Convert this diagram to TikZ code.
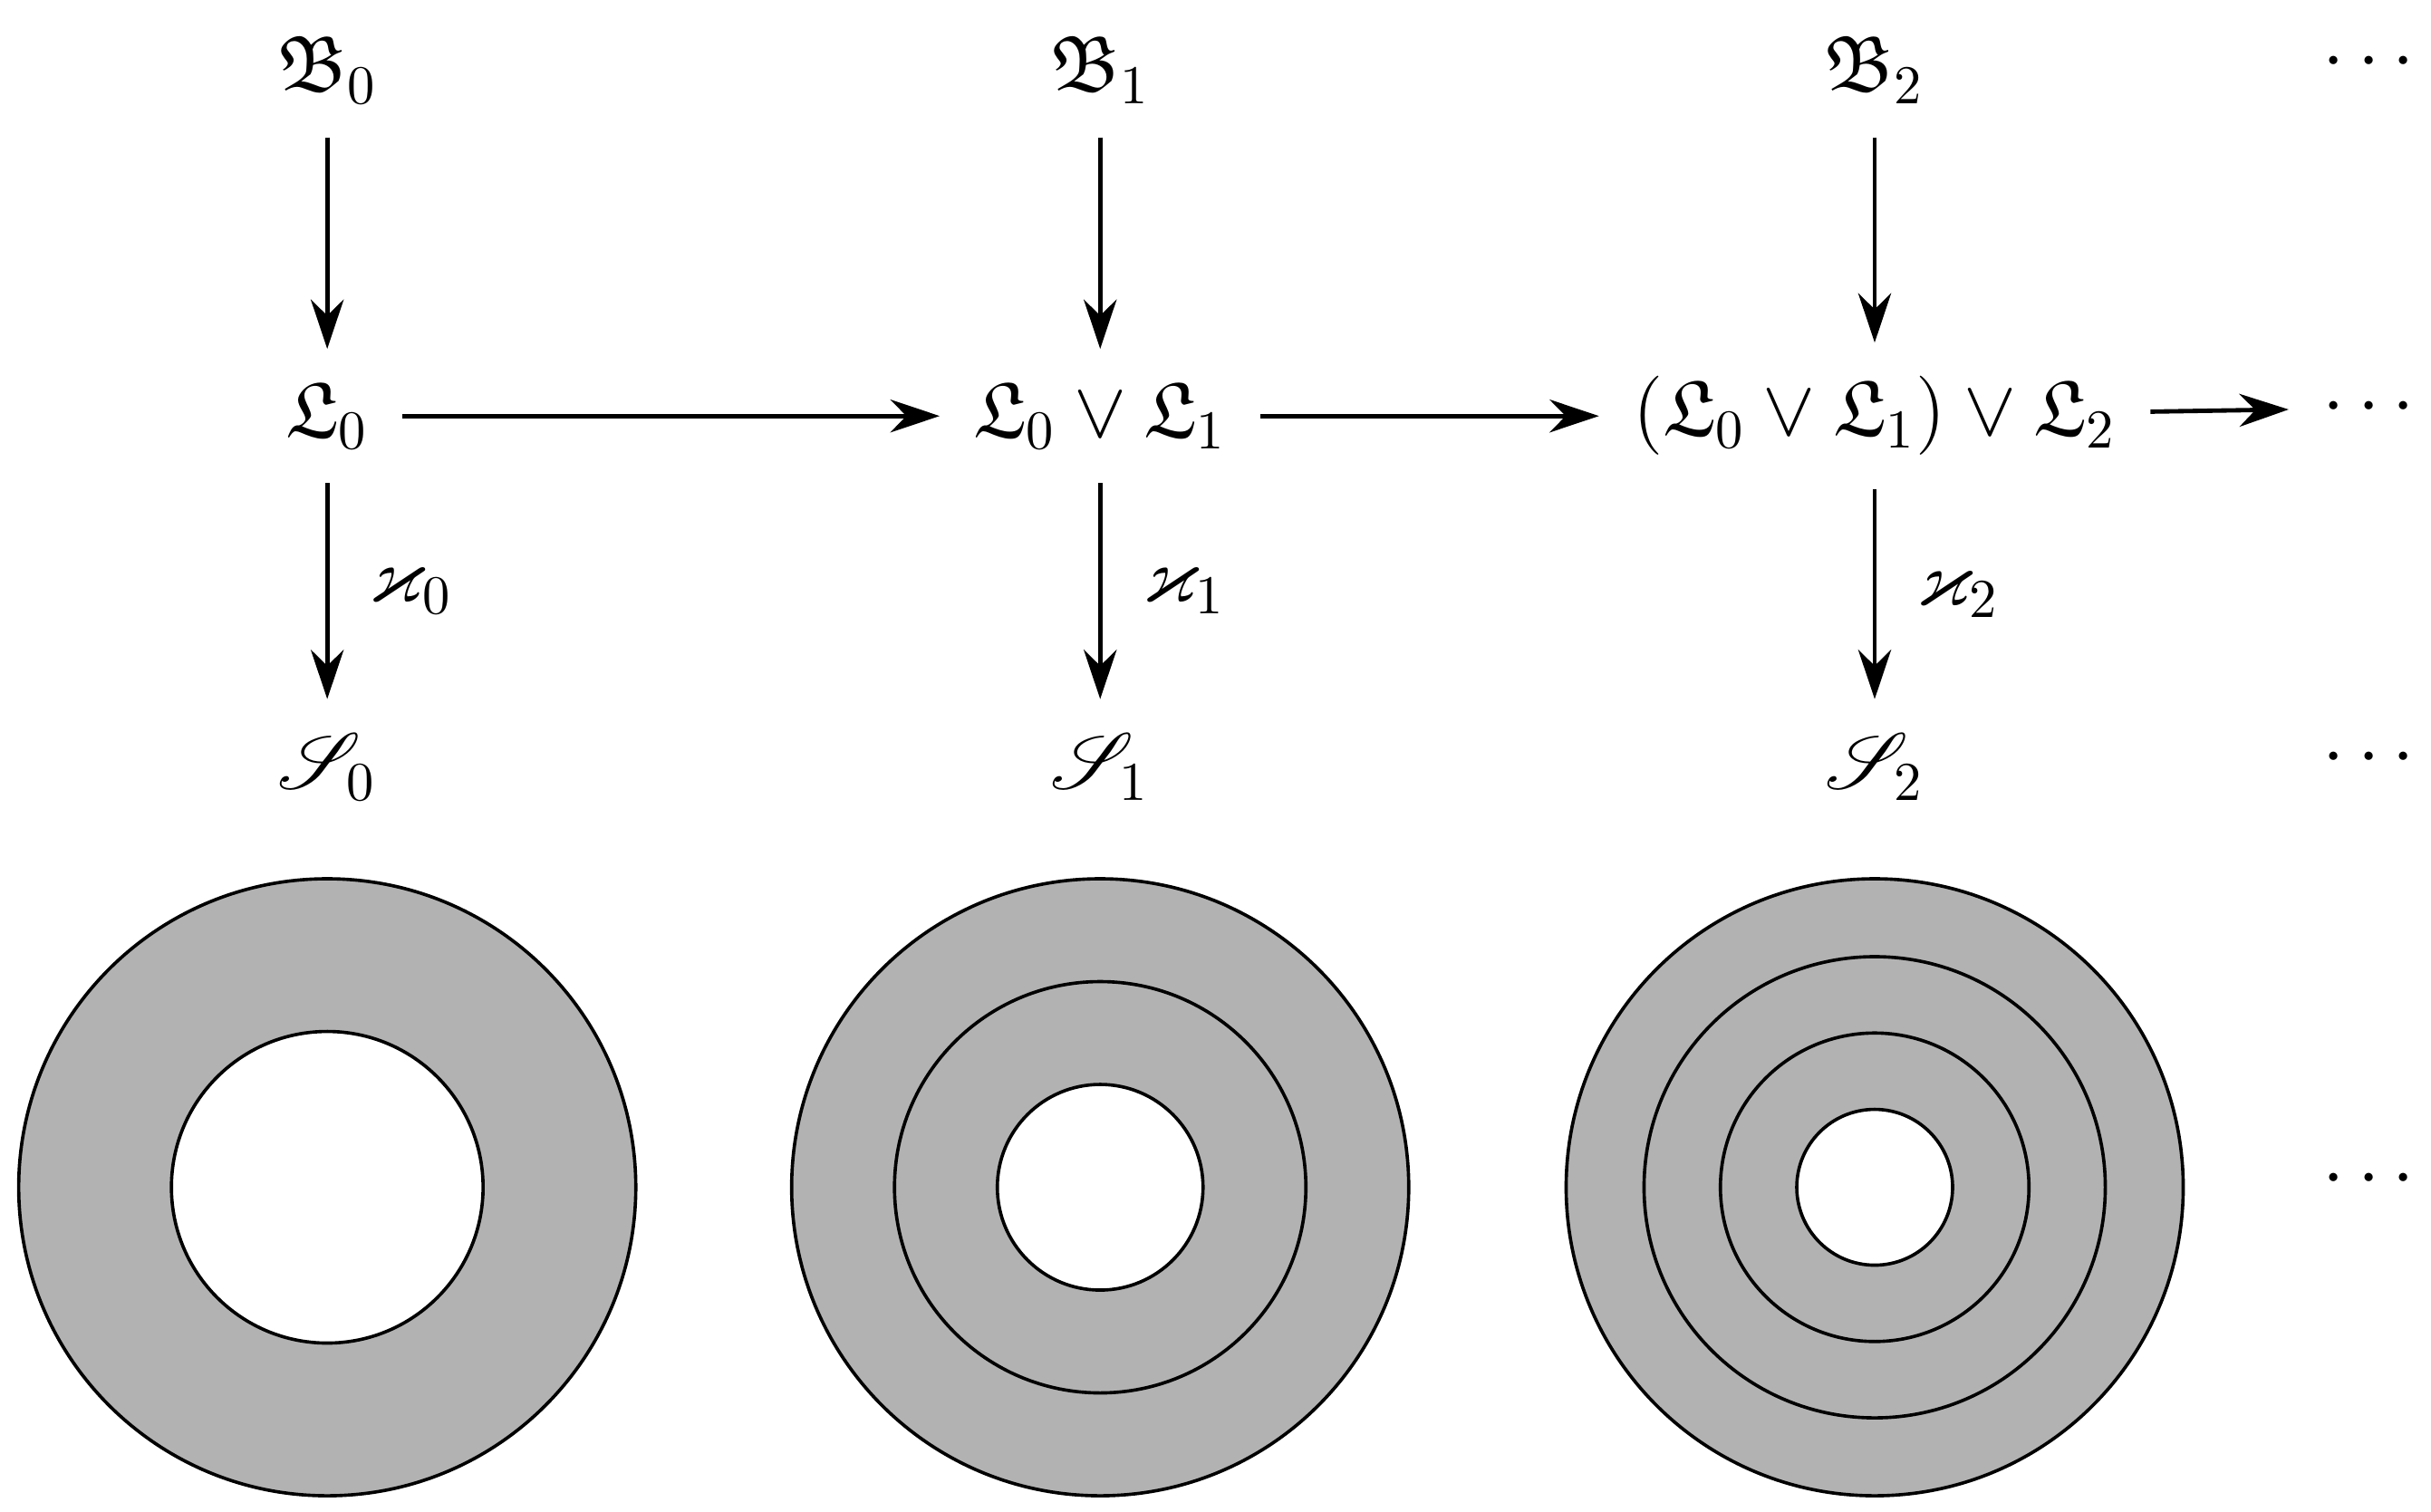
\documentclass[tikz,border=0pt]{standalone}
\usepackage{amssymb}
\usepackage{mathrsfs}
\usetikzlibrary{arrows.meta}
\begin{document}
\begin{tikzpicture}[x=0.01cm,y=-0.01cm,
  lab/.style={font=\Large,inner sep=6pt},
  arr/.style={-{Stealth[length=9pt,width=6pt]},line width=0.8pt},
  disk/.style={fill=black!30,draw=black,line width=0.6pt},
  ring/.style={draw=black,line width=0.6pt}]
\useasboundingbox (0,0) rectangle (1560,970);
\foreach \c/\x in {0/210,1/706,2/1203}{
  \node[lab] (B\c) at (\x,45) {$\mathfrak{B}_{\c}$};
  \node[lab] (S\c) at (\x,492) {$\mathscr{S}_{\c}$};
}
\node[lab] (L0) at (210,267) {$\mathfrak{L}_0$};
\node[lab] (L1) at (706,267) {$\mathfrak{L}_0\vee\mathfrak{L}_1$};
\node[lab] (L2) at (1203,267) {$(\mathfrak{L}_0\vee\mathfrak{L}_1)\vee\mathfrak{L}_2$};
\node[lab] (D0) at (1520,40) {$\cdots$};
\node[lab] (D1) at (1520,262) {$\cdots$};
\node[lab] (D2) at (1520,487) {$\cdots$};
\node[lab] (D3) at (1520,757) {$\cdots$};
\foreach \c in {0,1,2}{
  \draw[arr] (B\c) -- (L\c);
  \draw[arr] (L\c) -- node[right,font=\Large,xshift=4pt]{$\varkappa_{\c}$} (S\c);
}
\draw[arr] (L0) -- (L1);
\draw[arr] (L1) -- (L2);
\draw[arr] (L2) -- (D1);
% disks
\draw[disk] (210,762) circle (198);
\draw[ring,fill=white] (210,762) circle (100);
\draw[disk] (706,762) circle (198);
\draw[ring] (706,762) circle (132);
\draw[ring,fill=white] (706,762) circle (66);
\draw[disk] (1203,762) circle (198);
\draw[ring] (1203,762) circle (148);
\draw[ring] (1203,762) circle (99);
\draw[ring,fill=white] (1203,762) circle (50);
\end{tikzpicture}
\end{document}
